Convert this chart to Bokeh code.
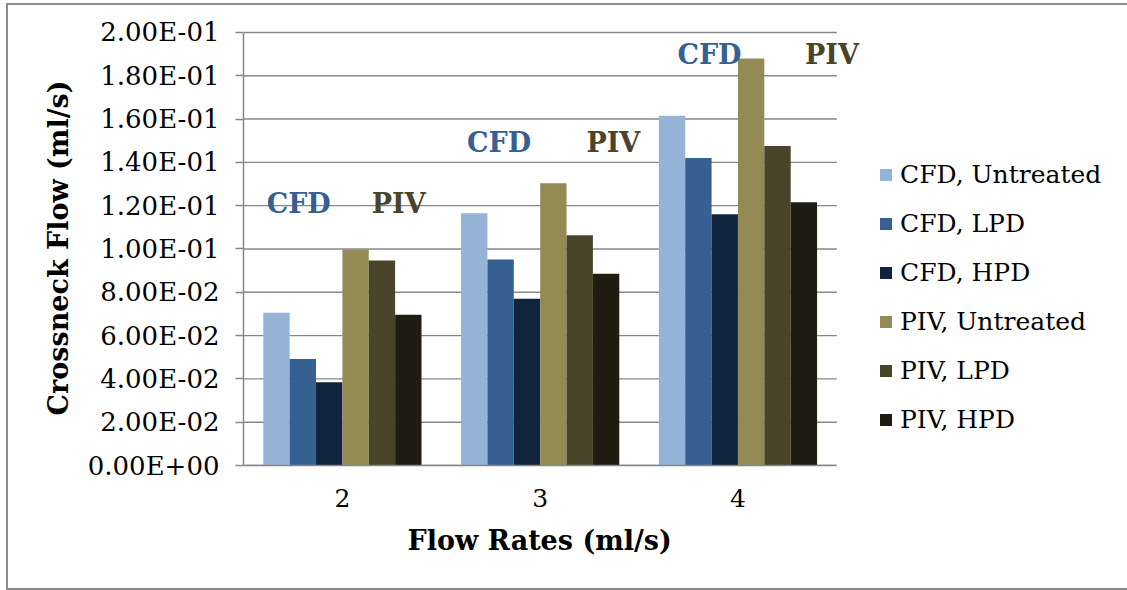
from bokeh.plotting import figure
from bokeh.models import (ColumnDataSource, FixedTicker, Legend, LegendItem,
                          LabelSet, Range1d, Title)
from bokeh.embed import file_html
from bokeh.resources import INLINE
from bokeh.core.properties import value

# ---------------- data ----------------
flow_rates = ["2", "3", "4"]
series_names = ["CFD, Untreated", "CFD, LPD", "CFD, HPD",
                "PIV, Untreated", "PIV, LPD", "PIV, HPD"]
cfd_untreated = [0.0705, 0.1165, 0.1615]
cfd_lpd = [0.0492, 0.0951, 0.1420]
cfd_hpd = [0.0385, 0.0770, 0.1160]
piv_untreated = [0.0998, 0.1304, 0.1880]
piv_lpd = [0.0947, 0.1063, 0.1476]
piv_hpd = [0.0696, 0.0886, 0.1216]
series_values = [cfd_untreated, cfd_lpd, cfd_hpd, piv_untreated, piv_lpd, piv_hpd]

y_ticks = [0.0, 0.02, 0.04, 0.06, 0.08, 0.10, 0.12, 0.14, 0.16, 0.18, 0.20]
y_tick_labels = ["0.00E+00", "2.00E-02", "4.00E-02", "6.00E-02", "8.00E-02",
                 "1.00E-01", "1.20E-01", "1.40E-01", "1.60E-01", "1.80E-01",
                 "2.00E-01"]

# group annotations ("CFD" / "PIV") – anchor in category units and y value
annot_text = ["CFD", "PIV", "CFD", "PIV", "CFD", "PIV"]
annot_group = [0, 0, 1, 1, 2, 2]
annot_shift = [-0.221, 0.285, -0.208, 0.370, -0.144, 0.475]
annot_y = [0.1211, 0.1211, 0.1490, 0.1490, 0.1898, 0.1898]

# ---------------- style ----------------
colors = ["#95B3D7", "#366092", "#10243E", "#948A54", "#4A452A", "#1F1D12"]
annot_colors = {"CFD": "#366092", "PIV": "#4A452A"}
FONT = "DejaVu Serif"
GRID = "#878787"
BORDER = "#8c8c8c"

n_cat = len(flow_rates)
cat_px = 197.333          # pixel width of one category slot
frame_w = 1117 - 235      # frame spans the axis area plus the legend area
x_end = -0.5 + frame_w / cat_px

p = figure(width=1121, height=587,
           x_range=Range1d(-0.5, x_end), y_range=Range1d(0, 0.2009),
           output_backend="svg", toolbar_location=None,
           min_border_left=235, min_border_right=2,
           min_border_top=25, min_border_bottom=127)
p.margin = (3, 0, 0, 6)
p.styles = {"border-left": f"2px solid {BORDER}",
            "border-top": f"2px solid {BORDER}",
            "border-bottom": f"2px solid {BORDER}"}
p.outline_line_color = None
p.background_fill_color = "white"
p.border_fill_color = "white"

# horizontal gridlines limited to the category area
p.segment(x0=-0.5, x1=n_cat - 0.5, y0=y_ticks, y1=y_ticks,
          line_color=GRID, line_width=1.4)

n = len(series_names)
bar_w = 0.8 / n
idx = list(range(n_cat))
items = []
for i, (name, vals) in enumerate(zip(series_names, series_values)):
    off = (i - (n - 1) / 2) * bar_w
    src = ColumnDataSource(dict(x=[k + off for k in idx], top=vals))
    r = p.vbar(x="x", top="top", bottom=0, width=bar_w, source=src,
               fill_color=colors[i], line_color=None)
    items.append(LegendItem(label=name, renderers=[r]))

# annotations
asrc = ColumnDataSource(dict(
    x=[g + s for g, s in zip(annot_group, annot_shift)],
    y=annot_y, text=annot_text,
    color=[annot_colors[t] for t in annot_text]))
p.add_layout(LabelSet(x="x", y="y", text="text", source=asrc,
                      text_color="color", text_font=value(FONT),
                      text_font_style="bold", text_font_size="27px",
                      text_align="center", text_baseline="middle"))

# axes
p.xaxis.bounds = (-0.5, n_cat - 0.5)
p.xaxis.ticker = FixedTicker(ticks=idx)
p.xaxis.major_label_overrides = {k: lab for k, lab in zip(idx, flow_rates)}
p.xaxis.major_tick_out = 0
p.xaxis.major_tick_in = 0
p.xaxis.minor_tick_line_color = None
p.xaxis.axis_line_color = GRID
p.xaxis.axis_line_width = 1.5
p.xaxis.major_label_text_font = FONT
p.xaxis.major_label_text_font_size = "25px"
p.xaxis.major_label_text_color = "black"
p.xaxis.major_label_standoff = 23

# x axis title, centred under the category area (not the whole frame)
p.add_layout(Title(text="Flow Rates (ml/s)", align="left", offset=164,
                   standoff=27, text_font=FONT, text_font_style="bold",
                   text_font_size="27px", text_color="black"), "below")

p.yaxis.bounds = (0, 0.2)
p.yaxis.ticker = FixedTicker(ticks=y_ticks)
p.yaxis.major_label_overrides = {t: lab for t, lab in zip(y_ticks, y_tick_labels)}
p.yaxis.major_tick_out = 8
p.yaxis.major_tick_in = 0
p.yaxis.major_tick_line_color = GRID
p.yaxis.major_tick_line_width = 1.5
p.yaxis.minor_tick_line_color = None
p.yaxis.axis_line_color = GRID
p.yaxis.axis_line_width = 1.5
p.yaxis.major_label_text_font = FONT
p.yaxis.major_label_text_font_size = "26px"
p.yaxis.major_label_text_color = "black"
p.yaxis.major_label_standoff = 16
p.yaxis.axis_label = "Crossneck Flow (ml/s)"
p.yaxis.axis_label_text_font = FONT
p.yaxis.axis_label_text_font_style = "bold"
p.yaxis.axis_label_text_font_size = "27px"
p.yaxis.axis_label_standoff = 11
p.yaxis.axis_label_text_color = "black"

p.xgrid.visible = False
p.ygrid.visible = False

legend = Legend(items=items, location=(635, 31),
                label_text_font=FONT, label_text_font_size="25px",
                label_text_color="black",
                glyph_width=15, glyph_height=15, label_standoff=7,
                label_height=30, spacing=19, padding=0, margin=0,
                background_fill_alpha=0, border_line_color=None)
p.add_layout(legend, "center")

open("out.html", "w").write(file_html(p, INLINE))
